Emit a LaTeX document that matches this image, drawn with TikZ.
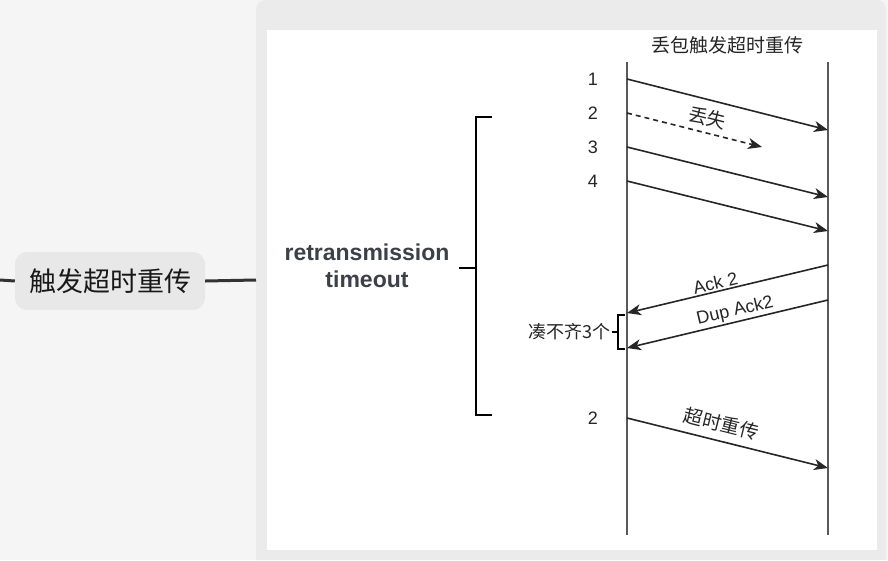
\documentclass[tikz,border=0pt]{standalone}
\usepackage{fontspec}
\setmainfont{Liberation Sans}
\newfontfamily\cjk{Noto Sans CJK SC}
\usetikzlibrary{arrows.meta,positioning}
\definecolor{rtogray}{RGB}{60,64,72}
\def\lblfont{\fontsize{18}{22}\selectfont}
\def\cjkfont{\cjk\fontsize{19}{23}\selectfont}
\tikzset{
	msg/.style={line width=1.6pt, color=black!85, -{Stealth[length=14pt,width=11pt,inset=4pt]}},
	lifeline/.style={line width=2.2pt, color=black!65},
	brace/.style={line width=2.8pt, color=black},
	num/.style={font=\lblfont, text=black!85, inner sep=0pt},
	lbl/.style={text=black!85, inner sep=1.5pt}
}

\begin{document}
\begin{tikzpicture}[x=1pt, y=-1pt]
			%%%%% START %%%%%
			\useasboundingbox (0, 0) rectangle (888, 560);
			\fill[black!4] (0, 0) rectangle (888, 560);
			
			% panel
			\fill[black!8, rounded corners=9pt] (256, 560) -- (256, 0) -- (886, 0) -- (886, 560);
			\fill[white] (267, 30) rectangle (877, 550);
			
			% topic node
			\node[fill=black!9, rounded corners=12pt, minimum width=190pt, minimum height=58pt, font=\cjk\fontsize{27}{30}\selectfont, text=black!90] (topic) at (110, 281) {触发超时重传};
			\coordinate (inL) at (0, 280);
			\coordinate (outR) at (256, 280);
			\draw[line width=3pt, color=black!80] (inL) -- (topic.west);
			\draw[line width=3pt, color=black!80] (topic.east) -- (outR);
			
			% lifelines
			\coordinate (Atop) at (627, 62);
			\coordinate (Abot) at (627, 535);
			\coordinate (Btop) at (828, 62);
			\coordinate (Bbot) at (828, 535);
			\draw[lifeline] (Atop) -- (Abot);
			\draw[lifeline] (Btop) -- (Bbot);
			\node[font=\cjkfont, text=black!85] (title) at (727, 45) {丢包触发超时重传};
			
			% segments
			\coordinate (s1) at (627, 79);   \coordinate (r1) at (828, 130);
			\coordinate (s2) at (627, 113);  \coordinate (r2) at (762, 147);
			\coordinate (s3) at (627, 147);  \coordinate (r3) at (828, 197);
			\coordinate (s4) at (627, 181);  \coordinate (r4) at (828, 231);
			\coordinate (s5) at (627, 418);  \coordinate (r5) at (828, 468);
			\node[num, left=29pt of s1] (n1) {1};
			\node[num, left=29pt of s2] (n2) {2};
			\node[num, left=29pt of s3] (n3) {3};
			\node[num, left=29pt of s4] (n4) {4};
			\node[num, left=29pt of s5] (n5) {2};
			\draw[msg] (s1) -- (r1);
			\draw[msg, dash pattern=on 5pt off 4pt] (s2) -- node[lbl, above=4pt, sloped, pos=0.57, font=\cjkfont] (lost) {丢失} (r2);
			\draw[msg] (s3) -- (r3);
			\draw[msg] (s4) -- (r4);
			\draw[msg] (s5) -- node[lbl, above=6pt, sloped, pos=0.45, font=\cjkfont] (rexmit) {超时重传} (r5);
			
			% acks
			\coordinate (a1) at (828, 265);  \coordinate (k1) at (627, 313);
			\coordinate (a2) at (828, 300);  \coordinate (k2) at (627, 348);
			\draw[msg] (a1) -- node[lbl, above, sloped, pos=0.55, font=\lblfont] (ack) {Ack 2} (k1);
			\draw[msg] (a2) -- node[lbl, above, sloped, pos=0.45, font=\lblfont] (dup) {Dup Ack2} (k2);
			
			% small brace
			\draw[line width=2.4pt] (625, 315) -- (618, 315) -- (618, 349) -- (625, 349);
			\coordinate (dupTip) at (612, 332);
			\coordinate (dupMid) at (618, 332);
			\draw[line width=2.4pt] (dupTip) -- (dupMid);
			\node[font=\cjk\fontsize{18}{22}\selectfont, text=black!85, anchor=east, inner sep=1pt] (few) at (dupTip) {凑不齐3个};
			
			% big brace
			\draw[brace] (492, 117) -- (476, 117) -- (476, 415) -- (492, 415);
			\coordinate (rtoTip) at (459, 268);
			\coordinate (rtoMid) at (476, 268);
			\draw[brace] (rtoTip) -- (rtoMid);
			\node[font=\bfseries\fontsize{23}{27}\selectfont, text=rtogray, align=center] (rto) at (367, 266) {retransmission\\timeout};
			%%%%% END %%%%%
\end{tikzpicture}
\end{document}
